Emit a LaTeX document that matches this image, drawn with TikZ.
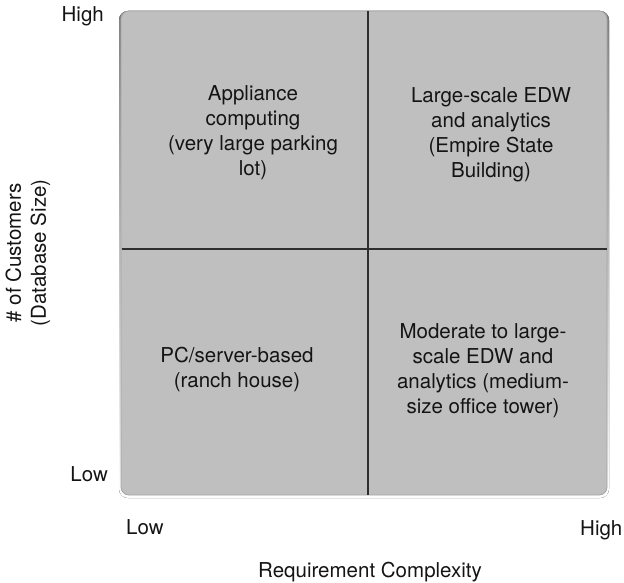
\documentclass[tikz,border=0pt]{standalone}
\usepackage{fontspec}
\setmainfont{TeX Gyre Heros}
\definecolor{quad}{RGB}{191,191,191}
\definecolor{edge}{RGB}{165,165,165}
\definecolor{shade}{RGB}{200,200,200}
\begin{document}
\begin{tikzpicture}[x=1pt,y=-1pt,
  lbl/.style={font=\fontsize{20.5}{25}\selectfont, text=black!92, inner sep=0pt, align=center},
  divider/.style={draw=black!82, line width=2.2pt}]
\useasboundingbox (0,0) rectangle (624,583);
% soft shadow
\fill[shade, rounded corners=9pt] (119,11) rectangle (609,498);
\node[draw=edge, line width=0.8pt, fill=quad, rounded corners=8pt,
      minimum width=486pt, minimum height=484pt, inner sep=0pt] (box) at (364,253) {};
% dividers
\coordinate (vtop) at (368,11.5);
\coordinate (vbot) at (368,494.5);
\coordinate (hl) at (121.5,249);
\coordinate (hr) at (606.5,249);
\draw[divider] (vtop) -- (vbot);
\draw[divider] (hl) -- (hr);
% quadrant texts
\node[lbl] (tl) at (253,133) {Appliance\\computing\\(very large parking\\lot)};
\node[lbl] (tr) at (491,134.5) {Large-scale EDW\\and analytics\\(Empire State\\Building)};
\node[lbl] (bl) at (237,369.5) {PC/server-based\\(ranch house)};
\node[lbl] (br) at (483,371) {Moderate to large-\\scale EDW and\\analytics (medium-\\size office tower)};
% axes labels
\node[lbl, anchor=base east] (yhigh) at (104,22) {High};
\node[lbl, anchor=base east] (ylow) at (108,481) {Low};
\node[lbl, anchor=base west] (xlow) at (126,534) {Low};
\node[lbl, anchor=base west] (xhigh) at (580,535) {High};
\node[lbl, anchor=base] (xlab) at (370,577) {Requirement Complexity};
\node[lbl, rotate=90] (ylab) at (28,253) {\# of Customers\\(Database Size)};
\end{tikzpicture}
\end{document}
